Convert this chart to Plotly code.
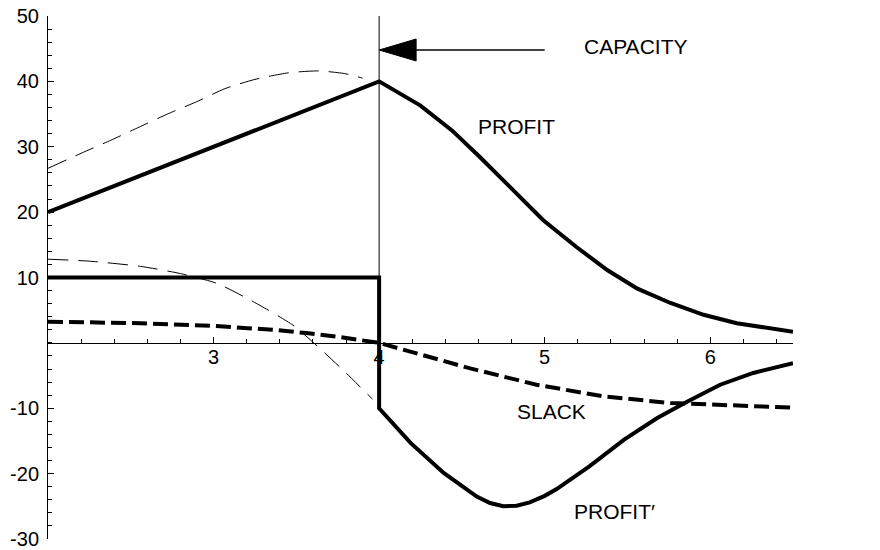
import plotly.graph_objects as go

FONT = "Liberation Sans, Arial, Helvetica, sans-serif"

# price axis values and series
capacity_price = 4.0

profit_x = [2.0, 4.0, 4.25, 4.44, 4.61, 4.79, 4.99, 5.19, 5.38, 5.56, 5.76, 5.96, 6.16, 6.5]
profit_y = [20, 40, 36.3, 32.5, 28.4, 23.9, 18.8, 14.7, 11.1, 8.3, 6.1, 4.3, 3.0, 1.7]

dprofit_x = [2.0, 4.0, 4.0, 4.19, 4.39, 4.59, 4.67, 4.75, 4.83, 4.91, 5.0, 5.07, 5.27,
             5.48, 5.68, 5.86, 6.06, 6.26, 6.5]
dprofit_y = [10, 10, -10, -15.3, -19.9, -23.5, -24.5, -25.0, -24.9, -24.4, -23.4, -22.4, -18.9,
             -14.8, -11.5, -9.0, -6.4, -4.6, -3.1]

slack_x = [2.0, 2.56, 3.0, 3.36, 3.56, 3.76, 4.0, 4.19, 4.55, 4.95, 5.36, 5.76, 6.16, 6.5]
slack_y = [3.25, 3.0, 2.6, 2.0, 1.5, 0.9, 0.0, -1.3, -3.9, -6.4, -8.2, -9.2, -9.6, -9.9]

unc_profit_x = [2.0, 2.2, 2.38, 2.55, 2.73, 2.89, 3.07, 3.25, 3.45, 3.63, 3.79, 3.9]
unc_profit_y = [26.7, 29.0, 31.0, 33.0, 35.1, 36.8, 38.9, 40.3, 41.3, 41.6, 41.2, 40.5]

unc_dprofit_x = [2.0, 2.25, 2.56, 2.8, 3.02, 3.24, 3.48, 3.64, 3.8, 3.96]
unc_dprofit_y = [12.8, 12.5, 11.7, 10.6, 9.1, 6.3, 2.7, -0.8, -4.6, -8.6]

x_ticks = [3, 4, 5, 6]
y_ticks = [-30, -20, -10, 10, 20, 30, 40, 50]
y_tick_text = ["-30", "-20", "-10", "10", "20", "30", "40", "50"]

fig = go.Figure()
thin_dash = "20px,10px"
fig.add_trace(go.Scatter(x=unc_profit_x, y=unc_profit_y, mode="lines",
                         line=dict(color="black", width=1, dash=thin_dash, shape="spline", smoothing=0.6)))
fig.add_trace(go.Scatter(x=unc_dprofit_x, y=unc_dprofit_y, mode="lines",
                         line=dict(color="black", width=1, dash=thin_dash, shape="spline", smoothing=0.6)))
fig.add_trace(go.Scatter(x=slack_x, y=slack_y, mode="lines",
                         line=dict(color="black", width=4, dash="15px,6px")))
fig.add_trace(go.Scatter(x=profit_x, y=profit_y, mode="lines",
                         line=dict(color="black", width=4)))
fig.add_trace(go.Scatter(x=dprofit_x, y=dprofit_y, mode="lines",
                         line=dict(color="black", width=4)))

# capacity marker line and arrow
fig.add_shape(type="line", xref="x", yref="y", x0=capacity_price, x1=capacity_price, y0=0, y1=50,
              line=dict(color="black", width=1))
arrow_y = 44.8
head_len = 37 / 165.5
head_half = 11 / 6.55
fig.add_shape(type="path", xref="x", yref="y",
              path=f"M {capacity_price},{arrow_y} L {capacity_price + head_len},{arrow_y + head_half} "
                   f"L {capacity_price + head_len},{arrow_y - head_half} Z",
              fillcolor="black", line=dict(color="black", width=1))
fig.add_shape(type="line", xref="x", yref="y", x0=capacity_price + head_len, x1=5.0,
              y0=arrow_y, y1=arrow_y, line=dict(color="black", width=1.3))

labels = [("CAPACITY", 5.547, 45.3), ("PROFIT", 4.828, 33.1), ("SLACK", 5.039, -10.5),
          ("PROFIT\u2032", 5.42, -25.8), ("PRICE", 6.82, 0.3)]
for text, lx, ly in labels:
    fig.add_annotation(x=lx, y=ly, text=text, showarrow=False, xanchor="center", yanchor="middle",
                       font=dict(size=21, color="black", family=FONT))

# page body adds an 8px offset, so margins are shifted to compensate
fig.update_layout(
    width=880, height=550, showlegend=False,
    paper_bgcolor="white", plot_bgcolor="white",
    margin=dict(l=40, r=95, t=7.5, b=18.5),
    font=dict(family=FONT, size=20, color="black"),
    xaxis=dict(range=[2, 6.5], anchor="free", position=0.375, showgrid=False, zeroline=False,
               automargin=False, showline=True, linecolor="black", linewidth=1,
               tickmode="array", tickvals=x_ticks, ticks="inside", ticklen=6, tickcolor="black",
               ticklabelstandoff=-4, ticklabeloverflow="allow",
               minor=dict(dtick=0.2, tick0=2, ticks="inside", ticklen=3.5, tickcolor="black", showgrid=False)),
    yaxis=dict(range=[-30, 50], showgrid=False, zeroline=False, automargin=False,
               showline=True, linecolor="black", linewidth=1,
               tickmode="array", tickvals=y_ticks, ticktext=y_tick_text,
               ticks="inside", ticklen=6, tickcolor="black", ticklabelstandoff=4,
               ticklabeloverflow="allow",
               minor=dict(dtick=2, tick0=0, ticks="inside", ticklen=3.5, tickcolor="black", showgrid=False)),
)

fig.write_html("out.html")
